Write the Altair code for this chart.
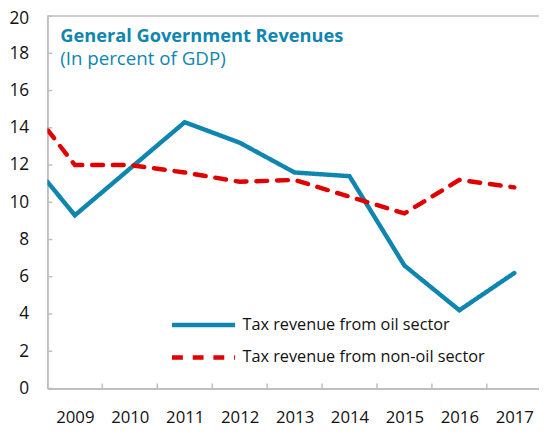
import altair as alt
import pandas as pd

years = [2008.5, 2009, 2010, 2011, 2012, 2013, 2014, 2015, 2016, 2017]
oil = [11.1, 9.3, 11.8, 14.3, 13.2, 11.6, 11.4, 6.6, 4.2, 6.2]
non_oil = [13.9, 12.0, 12.0, 11.6, 11.1, 11.2, 10.3, 9.4, 11.2, 10.8]
series_names = ["Tax revenue from oil sector", "Tax revenue from non-oil sector"]
series_colors = ["#0F86B0", "#E00000"]
x_labels = [2009, 2010, 2011, 2012, 2013, 2014, 2015, 2016, 2017]
x_ticks = [2009.5, 2010.5, 2011.5, 2012.5, 2013.5, 2014.5, 2015.5, 2016.5]
y_ticks = [0, 2, 4, 6, 8, 10, 12, 14, 16, 18, 20]
title_text = "General Government Revenues"
subtitle_text = "(In percent of GDP)"

FONT = "Open Sans"
W, H = 499, 378
GRAY = "#bfbfbf"

rows = []
for s, vals in zip(series_names, [oil, non_oil]):
    for y, v in zip(years, vals):
        rows.append({"year": y, "value": v, "series": s})
df = pd.DataFrame(rows)

xscale = alt.Scale(domain=[2008.5, 2017.45], nice=False, zero=False)
yscale = alt.Scale(domain=[0, 20], nice=False)

xaxis = alt.Axis(values=x_labels, format="d", title=None, grid=False, tickSize=0,
                 labelPadding=22, labelFontSize=17, labelFont=FONT, labelColor="#111",
                 domainColor=GRAY, domainWidth=2, labelFlush=False, labelOverlap=False)
yaxis = alt.Axis(values=y_ticks, format="d", title=None, grid=False, tickSize=0,
                 labelPadding=19, labelFontSize=17.5, labelFont=FONT, labelColor="#111",
                 domainColor=GRAY, domainWidth=2, labelOverlap=False,
                 labelOffset=alt.condition("datum.value == 20", alt.value(3), alt.value(0)))

lines = alt.Chart(df).mark_line(strokeWidth=4.5, strokeCap="round", strokeJoin="miter", clip=True).encode(
    x=alt.X("year:Q", scale=xscale, axis=xaxis),
    y=alt.Y("value:Q", scale=yscale, axis=yaxis),
    color=alt.Color("series:N", scale=alt.Scale(domain=series_names, range=series_colors),
                    legend=alt.Legend(title=None, orient="none", legendX=148, legendY=303,
                                      symbolType="M-4,0H4", symbolSize=256, symbolStrokeWidth=4.5,
                                      labelFontSize=16.5, labelFont=FONT, labelColor="#111",
                                      labelLimit=400, labelOffset=29, rowPadding=13)),
    strokeDash=alt.StrokeDash("series:N", scale=alt.Scale(domain=series_names, range=[[1, 0], [11, 10]]),
                              legend=None),
)

ydf = pd.DataFrame({"value": y_ticks})
yt = alt.Chart(ydf).mark_rule(color=GRAY, strokeWidth=1.5).encode(
    y=alt.Y("value:Q", scale=yscale, axis=yaxis), x=alt.value(0), x2=alt.value(5))

xdf = pd.DataFrame({"year": x_ticks})
xt = alt.Chart(xdf).mark_rule(color=GRAY, strokeWidth=1.5).encode(
    x=alt.X("year:Q", scale=xscale, axis=xaxis), y=alt.value(H), y2=alt.value(H - 5))

top = alt.Chart(pd.DataFrame({"a": [0]})).mark_rule(color=GRAY, strokeWidth=1.5).encode(
    y=alt.value(0), x=alt.value(0), x2=alt.value(W))

tdf = pd.DataFrame({"t": [title_text]})
title = alt.Chart(tdf).mark_text(align="left", baseline="alphabetic", font=FONT, fontSize=18.5,
                                 fontWeight="bold", color="#0F86B0").encode(
    text="t:N", x=alt.value(13), y=alt.value(26))
sdf = pd.DataFrame({"t": [subtitle_text]})
subtitle = alt.Chart(sdf).mark_text(align="left", baseline="alphabetic", font=FONT, fontSize=19,
                                    color="#0F86B0").encode(
    text="t:N", x=alt.value(13), y=alt.value(50))

chart = alt.layer(lines, yt, xt, top, title, subtitle).properties(
    width=W, height=H,
    autosize=alt.AutoSizeParams(type="none"),
    padding={"left": 40, "top": 5, "right": 0, "bottom": 40},
).configure_view(stroke=None)

chart.save("out.html", embed_options={"renderer": "svg", "actions": False})
